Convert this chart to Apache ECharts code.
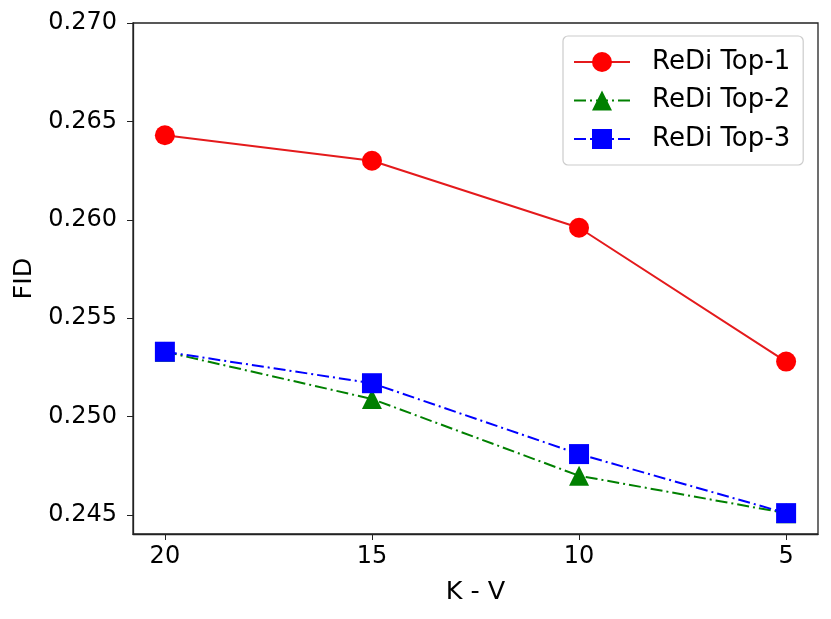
<!DOCTYPE html>
<html><head><meta charset="utf-8">
<script src="https://cdn.jsdelivr.net/npm/echarts@6/dist/echarts.min.js"></script>
<style>html,body{margin:0;padding:0;background:#fff}#c{width:831px;height:619px}</style>
</head><body><div id="c"></div>
<script>
const kv = [20, 15, 10, 5];
const top1 = [0.2643, 0.2630, 0.2596, 0.2528];
const top2 = [0.2533, 0.2509, 0.2470, 0.2451];
const top3 = [0.2533, 0.2517, 0.2481, 0.2451];
const yTicks = [0.245, 0.250, 0.255, 0.260, 0.265, 0.270];
const names = ['ReDi Top-1', 'ReDi Top-2', 'ReDi Top-3'];

const font = 'DejaVu Sans';
const chart = echarts.init(document.getElementById('c'), null, {renderer: 'canvas'});
const pair = arr => kv.map((k, i) => [k, arr[i]]);
const dashDot = [12, 4, 2, 4];
chart.setOption({
  animation: false,
  backgroundColor: '#fff',
  grid: {left: 133, right: 13, top: 23, bottom: 85, show: true, borderColor: '#222', borderWidth: 1.3},
  xAxis: {
    type: 'value', inverse: true, min: 4.23, max: 20.77,
    name: 'K - V', nameLocation: 'middle', nameGap: 45,
    nameTextStyle: {fontFamily: font, fontSize: 25.5, color: '#000'},
    axisLine: {show: true, lineStyle: {color: '#222', width: 1.3}},
    axisTick: {show: true, length: 6, inside: false, customValues: kv, lineStyle: {color: '#222'}},
    axisLabel: {customValues: kv, fontFamily: font, fontSize: 24, color: '#000', margin: 11},
    splitLine: {show: false}
  },
  yAxis: {
    type: 'value', min: 0.24404, max: 0.270,
    name: 'FID', nameLocation: 'middle', nameGap: 89, nameRotate: 90,
    nameTextStyle: {fontFamily: font, fontSize: 25.5, color: '#000'},
    axisLine: {show: true, lineStyle: {color: '#222', width: 1.3}},
    axisTick: {show: true, length: 6, customValues: yTicks, lineStyle: {color: '#222'}},
    axisLabel: {customValues: yTicks, fontFamily: font, fontSize: 24, color: '#000', margin: 16,
      formatter: v => v.toFixed(3)},
    splitLine: {show: false}
  },
  legend: {
    left: 563, top: 36, orient: 'vertical',
    padding: [13, 13, 13, 10],
    itemWidth: 56, itemHeight: 25, itemGap: 12.5,
    borderColor: '#cccccc', borderWidth: 1.2, borderRadius: 5,
    backgroundColor: 'rgba(255,255,255,0.8)',
    textStyle: {fontFamily: font, fontSize: 26, color: '#000', padding: [0, 0, 0, 17]},
    data: names
  },
  series: [
    {name: names[0], type: 'line', data: pair(top1), symbol: 'circle', symbolSize: 20,
      itemStyle: {color: '#ff0000'}, lineStyle: {color: '#e41a1c', width: 2, type: 'solid'}},
    {name: names[1], type: 'line', data: pair(top2), symbol: 'triangle', symbolSize: 20,
      itemStyle: {color: '#008000'}, lineStyle: {color: '#008000', width: 2, type: dashDot}},
    {name: names[2], type: 'line', data: pair(top3), symbol: 'rect', symbolSize: 20,
      itemStyle: {color: '#0000ff'}, lineStyle: {color: '#0000ff', width: 2, type: dashDot}}
  ]
});
</script></body></html>
